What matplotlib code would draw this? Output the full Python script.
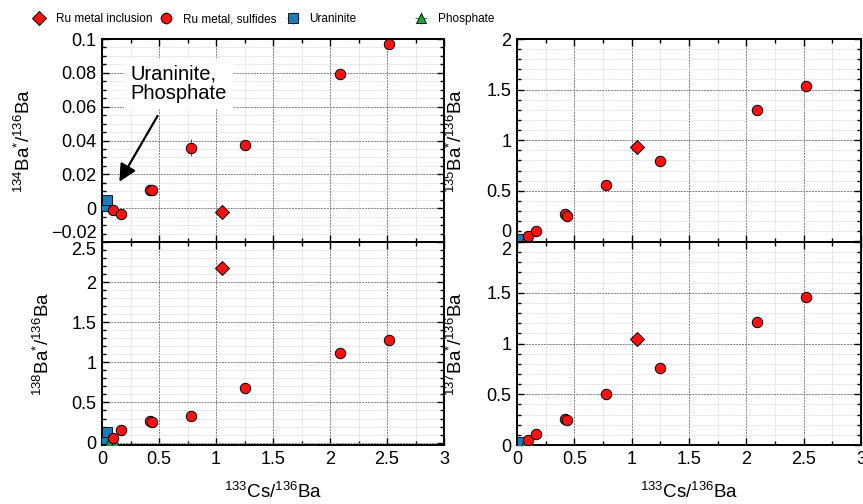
import numpy as np
import matplotlib
matplotlib.use("Agg")
import matplotlib.pyplot as plt
from matplotlib.ticker import MultipleLocator, FuncFormatter

FONT = ['Liberation Sans', 'DejaVu Sans']
plt.rcParams['font.family'] = FONT
plt.rcParams['mathtext.fontset'] = 'custom'
plt.rcParams['mathtext.rm'] = 'Liberation Sans'
plt.rcParams['mathtext.it'] = 'Liberation Sans:italic'
plt.rcParams['mathtext.default'] = 'regular'

# ---------------- data ----------------
x_incl = [1.05]
y134_incl = [-0.0024]
y135_incl = [0.931]
y138_incl = [2.17]
y137_incl = [1.04]

x_sulf = [0.10, 0.17, 0.42, 0.44, 0.78, 1.25, 2.09, 2.52]
y134_sulf = [-0.001, -0.0036, 0.0105, 0.011, 0.0356, 0.0374, 0.0794, 0.0968]
e134_sulf = [0.001, 0.001, 0.001, 0.001, 0.005, 0.001, 0.001, 0.001]
y135_sulf = [0.056, 0.105, 0.273, 0.247, 0.556, 0.796, 1.30, 1.54]
e135_sulf = [0.01, 0.01, 0.01, 0.01, 0.02, 0.01, 0.01, 0.01]
y138_sulf = [0.058, 0.163, 0.27, 0.26, 0.3375, 0.675, 1.12, 1.275]
e138_sulf = [0.01, 0.01, 0.01, 0.01, 0.044, 0.01, 0.01, 0.01]
y137_sulf = [0.049, 0.112, 0.26, 0.243, 0.507, 0.763, 1.214, 1.454]
e137_sulf = [0.01, 0.01, 0.01, 0.01, 0.02, 0.01, 0.01, 0.01]

x_uran = [0.03, 0.04]
y134_uran = [0.001, 0.005]
y135_uran = [0.0, 0.02]
y138_uran = [0.05, 0.13]
y137_uran = [0.0, 0.03]

x_phos = [0.06, 0.115]
y134_phos = [np.nan, np.nan]
y135_phos = [0.0, 0.0]
y138_phos = [-0.01, -0.005]
y137_phos = [0.0, 0.0]

xticks = [0, 0.5, 1, 1.5, 2, 2.5, 3]
legend_labels = ['Ru metal inclusion', 'Ru metal, sulfides', 'Uraninite', 'Phosphate']

RED = '#ff1010'
BLUE = '#1b7dbd'
GREEN = '#1fa03a'

# ---------------- figure ----------------
fig = plt.figure(figsize=(8.63, 5.04), dpi=100)
W, H = 863, 504

def add_ax(x0, x1, y0, y1):
    return fig.add_axes([x0 / W, 1 - y1 / H, (x1 - x0) / W, (y1 - y0) / H])

ax_tl = add_ax(102, 444, 39, 242)
ax_bl = add_ax(102, 444, 242, 445)
ax_tr = add_ax(517, 861, 39, 242)
ax_br = add_ax(517, 861, 242, 445)

def fmt(v, pos):
    s = '%g' % round(v, 6)
    return s.replace('-', '\u2212')

panels = [
    (ax_tl, y134_incl, y134_sulf, e134_sulf, y134_uran, y134_phos, (-0.02, 0.1), 0.02, 0.005,
     r'$^{134}$Ba$^{*}$/$^{136}$Ba', -0.199, False),
    (ax_bl, y138_incl, y138_sulf, e138_sulf, y138_uran, y138_phos, (-0.03, 2.5), 0.5, 0.1,
     r'$^{138}$Ba$^{*}$/$^{136}$Ba', -0.143, True),
    (ax_tr, y135_incl, y135_sulf, e135_sulf, y135_uran, y135_phos, (-0.005, 2.0), 0.5, 0.1,
     r'$^{135}$Ba$^{*}$/$^{136}$Ba', -0.148, False),
    (ax_br, y137_incl, y137_sulf, e137_sulf, y137_uran, y137_phos, (0.0, 2.0), 0.5, 0.1,
     r'$^{137}$Ba$^{*}$/$^{136}$Ba', -0.148, True),
]

handles = None
for (ax, yi, ys, es, yu, yp, ylim, maj, mnr, ylabel, lx, bottom) in panels:
    ax.set_axisbelow(True)
    hu = ax.errorbar(x_uran, yu, xerr=[0.004] * len(x_uran), yerr=[0.002] * len(x_uran),
                     fmt='s', ms=7, mfc=BLUE, mec='k', mew=0.6,
                     ecolor=BLUE, elinewidth=0.8, capsize=0, zorder=3)
    hp = ax.errorbar(x_phos, yp, xerr=[0.004] * len(x_phos), yerr=[0.002] * len(x_phos),
                     fmt='^', ms=7, mfc=GREEN, mec='k', mew=0.6,
                     ecolor=GREEN, elinewidth=0.8, capsize=0, zorder=3)
    hs = ax.errorbar(x_sulf, ys, xerr=[0.004] * len(x_sulf), yerr=es,
                     fmt='o', ms=7.5, mfc=RED, mec='k', mew=0.7,
                     ecolor=RED, elinewidth=0.8, capsize=0, zorder=4)
    hi = ax.errorbar(x_incl, yi, xerr=[0.004], yerr=[0.002],
                     fmt='D', ms=7.5, mfc=RED, mec='k', mew=0.7,
                     ecolor=RED, elinewidth=0.8, capsize=0, zorder=5)
    if handles is None:
        handles = [hi, hs, hu, hp]

    ax.set_xlim(0, 3)
    ax.set_ylim(*ylim)
    ax.set_xticks(xticks)
    ax.xaxis.set_minor_locator(MultipleLocator(0.25))
    if maj < 0.1:
        yt = np.arange(-0.02, 0.1 + 1e-9, maj)
    else:
        yt = np.arange(0, ylim[1] + 1e-9, maj)
    ax.set_yticks(yt)
    ax.yaxis.set_minor_locator(MultipleLocator(mnr))
    ax.xaxis.set_major_formatter(FuncFormatter(fmt))
    ax.yaxis.set_major_formatter(FuncFormatter(fmt))

    ax.grid(True, which='major', color='#808080', ls=(0, (2, 1)), lw=0.7)
    ax.grid(True, which='minor', color='#cfcfcf', ls=(0, (1, 1)), lw=0.6)
    ax.tick_params(which='both', direction='in', top=True, right=True, width=1.0)
    ax.tick_params(which='major', length=5, labelsize=13, pad=4)
    ax.tick_params(which='minor', length=3)
    for sp in ax.spines.values():
        sp.set_linewidth(1.4)

    ax.set_ylabel(ylabel, fontsize=13.5)
    ax.yaxis.set_label_coords(lx, 0.5)
    if bottom:
        ax.set_xlabel(r'$^{133}$Cs/$^{136}$Ba', fontsize=13.5)
        ax.xaxis.set_label_coords(0.5, -0.18)
        labs = ax.get_yticklabels()
        labs[-1].set_va('top')
    else:
        ax.tick_params(axis='x', labelbottom=False)
        labs = ax.get_yticklabels()
        labs[0].set_va('bottom')

# annotation in top-left
ax_tl.annotate('', xy=(0.14, 0.0142), xytext=(0.5, 0.056),
               arrowprops=dict(arrowstyle='-|>', color='k', lw=1.6, mutation_scale=26),
               zorder=6)
ax_tl.text(0.25, 0.0737, 'Uraninite,\nPhosphate', fontsize=14.5, ha='left', va='center',
           linespacing=1.05, zorder=6,
           bbox=dict(boxstyle='square,pad=0.3', fc='white', ec='none'))

# legend: one entry per column at measured positions
marker_x = [39, 166, 293, 421]
LFS = 8.5
hl = 1.6
for h, lab, mx in zip(handles, legend_labels, marker_x):
    half = hl * LFS / 2 * 100 / 72
    fig.legend([h], [lab], loc='center left',
               bbox_to_anchor=((mx - half) / W, 1 - 19 / H),
               frameon=False, fontsize=LFS, handlelength=hl,
               handletextpad=0.6, borderaxespad=0, borderpad=0)

fig.savefig('out.png', dpi=100)
